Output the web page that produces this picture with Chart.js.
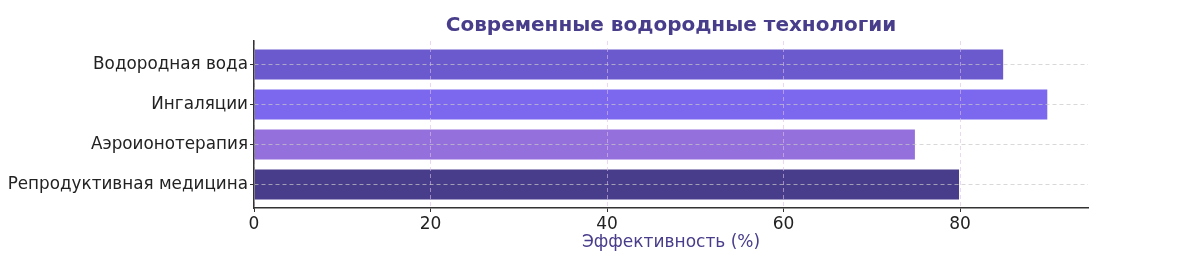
<html lang="ru">
<head>
    <meta charset="UTF-8">
    <title>Водородные технологии</title>
    <style>
        body { margin: 0; background: #fff; }
        #wrap { width: 1200px; height: 259px; }
    </style>
</head>
<body>
<div id="wrap">
    <canvas id="myChart" width="1200" height="259"></canvas>
</div>

<script src="https://cdn.jsdelivr.net/npm/chart.js"></script>
<script>
// данные с картинки
const categories = ['Водородная вода', 'Ингаляции', 'Аэроионотерапия', 'Репродуктивная медицина'];
const values = [85, 90, 75, 80];
const barColors = ['#6A5ACD', '#7B68EE', '#9370DB', '#483D8B'];
const xTicks = [0, 20, 40, 60, 80];

const FONT = 'DejaVu Sans';
const TITLE_COLOR = '#483D8B';

const ctx = document.getElementById('myChart').getContext('2d');
const myChart = new Chart(ctx, {
    type: 'bar',
    data: {
        datasets: [{
            data: values.map((v, i) => ({ x: v, y: i })),
            backgroundColor: barColors,
            borderColor: 'rgba(255,255,255,0.25)',
            borderWidth: 1,
            barPercentage: 0.8,
            categoryPercentage: 1
        }]
    },
    options: {
        indexAxis: 'y',
        responsive: false,
        animation: false,
        layout: { padding: { left: 0, right: 112, top: 0, bottom: 0 } },
        plugins: {
            legend: { display: false },
            tooltip: { enabled: false },
            title: {
                display: true,
                fullSize: false,
                text: 'Современные водородные технологии',
                color: TITLE_COLOR,
                font: { family: FONT, size: 20, weight: 'bold' },
                padding: { top: 14, bottom: 3 }
            }
        },
        scales: {
            x: {
                type: 'linear',
                min: 0,
                max: 94.5,
                offset: false,
                afterBuildTicks: s => { s.ticks = xTicks.map(v => ({ value: v })); },
                afterFit: s => { s.height = 51; },
                border: { display: true, z: 1, color: '#333', width: 1.5, dash: [4, 3] },
                grid: {
                    offset: false,
                    z: 1,
                    color: 'rgba(220,190,230,0.6)',
                    tickColor: '#333',
                    tickLength: 4
                },
                ticks: {
                    color: '#222',
                    padding: 2,
                    font: { family: FONT, size: 17 }
                },
                title: {
                    display: true,
                    text: 'Эффективность (%)',
                    color: TITLE_COLOR,
                    font: { family: FONT, size: 17 },
                    padding: { top: 4, bottom: 6 }
                }
            },
            y: {
                type: 'linear',
                reverse: true,
                min: -0.59,
                max: 3.59,
                offset: false,
                afterBuildTicks: s => { s.ticks = categories.map((c, i) => ({ value: i })); },
                afterFit: s => { s.width = 254; },
                border: { display: true, z: 1, color: '#333', width: 1.5, dash: [4, 3] },
                grid: {
                    offset: false,
                    z: 1,
                    color: 'rgba(200,200,200,0.7)',
                    tickColor: '#333',
                    tickLength: 4
                },
                ticks: {
                    color: '#222',
                    padding: 2,
                    font: { family: FONT, size: 16.8 },
                    callback: v => categories[v]
                }
            }
        }
    }
});
</script>
</body>
</html>
